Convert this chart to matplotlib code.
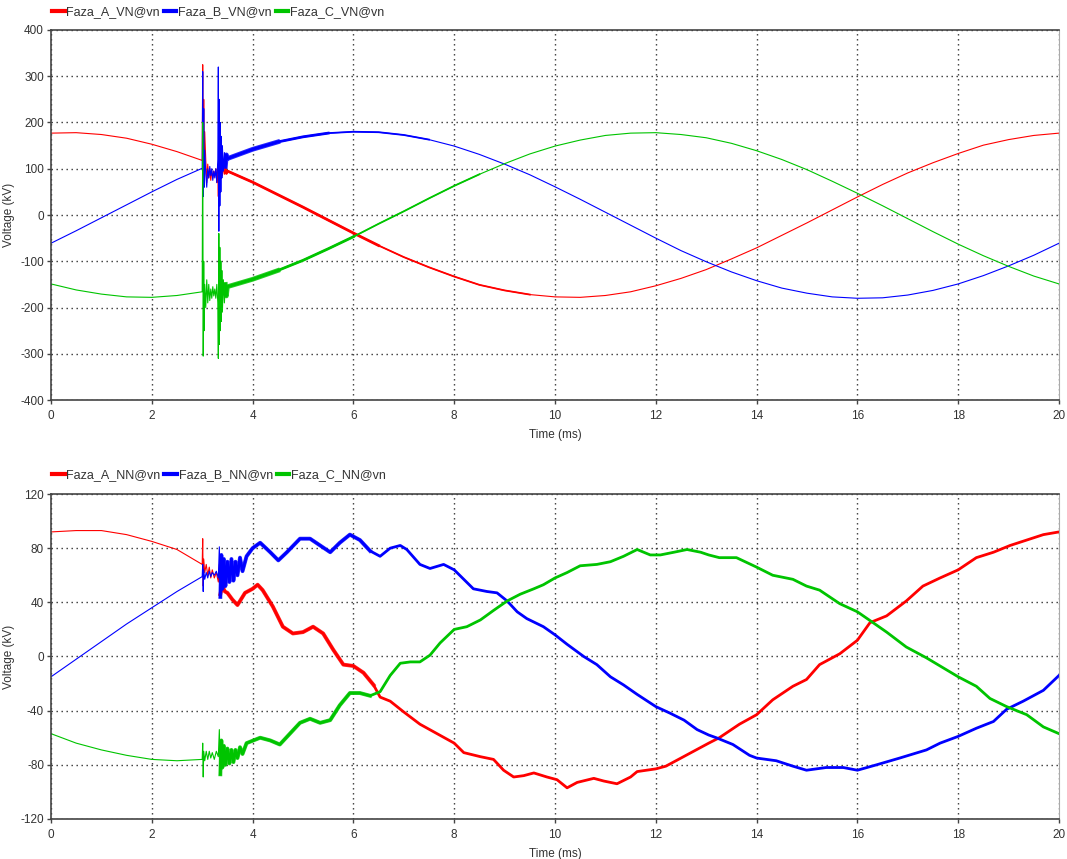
import numpy as np
import matplotlib
matplotlib.use("Agg")
import matplotlib.pyplot as plt

plt.rcParams['font.family'] = ['Liberation Sans', 'DejaVu Sans']
plt.rcParams['axes.unicode_minus'] = False

# ---------------- data: top chart (VN) ----------------
t_top = [0, 0.5, 1, 1.5, 2, 2.5, 3, 3.5, 4, 4.5, 5, 5.5, 6, 6.5, 7, 7.5, 8, 8.5, 9, 9.5,
         10, 10.5, 11, 11.5, 12, 12.5, 13, 13.5, 14, 14.5, 15, 15.5, 16, 16.5, 17, 17.5,
         18, 18.5, 19, 19.5, 20]
a_top = [177, 178, 174, 166, 153, 137, 118, 95, 71, 44, 17, -11, -39, -66, -91, -113, -133,
         -151, -163, -172, -177, -178, -174, -166, -153, -137, -118, -95, -71, -44, -17, 11,
         39, 66, 91, 113, 133, 151, 163, 172, 177]
b_top = [-61, -34, -6, 22, 50, 77, 101, 123, 142, 158, 169, 177, 180, 179, 173, 163, 149, 131,
         110, 87, 61, 34, 6, -22, -50, -77, -101, -123, -142, -158, -169, -177, -180, -179,
         -173, -163, -149, -131, -110, -87, -61]
c_top = [-149, -162, -171, -177, -178, -174, -166, -154, -139, -120, -98, -73, -47, -19, 8, 36,
         63, 88, 111, 132, 149, 162, 172, 177, 178, 174, 167, 155, 139, 120, 98, 73, 47, 20,
         -8, -36, -63, -88, -111, -132, -149]

# transient window of the top chart
t_tr = [3.00, 3.01, 3.02, 3.03, 3.04, 3.05, 3.07, 3.09, 3.11, 3.13, 3.15, 3.17, 3.19, 3.21,
        3.23, 3.25, 3.27, 3.29, 3.31, 3.32, 3.33, 3.34, 3.35, 3.36, 3.37, 3.38, 3.39, 3.40,
        3.42, 3.44, 3.46, 3.48, 3.50]
a_tr = [118, 325, 60, 250, 110, 180, 120, 70, 110, 80, 100, 75, 95, 80, 95, 85, 100, 70, 110,
        40, 150, 60, 130, 75, 115, 80, 110, 85, 105, 88, 100, 90, 95]
b_tr = [101, 310, 40, 230, 60, 140, 90, 60, 100, 80, 105, 85, 100, 75, 95, 80, 100, 70, 120,
        320, -35, 250, 20, 200, 50, 170, 80, 150, 95, 135, 105, 130, 122]
c_tr = [-166, 200, -305, -100, -250, -150, -200, -140, -190, -150, -185, -160, -180, -155,
        -175, -160, -180, -150, -190, -310, -40, -280, -70, -250, -100, -230, -120, -210,
        -140, -190, -150, -175, -155]

# ---------------- data: bottom chart (NN) ----------------
t_a_bot = [0, 0.5, 1, 1.5, 2, 2.5, 3.0, 3.01, 3.02, 3.03, 3.05, 3.08, 3.11, 3.14, 3.17, 3.2,
           3.24, 3.28, 3.32, 3.34, 3.36, 3.4, 3.45, 3.5, 3.6, 3.7, 3.85, 4.0, 4.1, 4.2, 4.4,
           4.6, 4.8, 5.0, 5.2, 5.4, 5.6, 5.8, 6.0, 6.2, 6.4, 6.53, 6.73, 7.0, 7.32, 7.66, 8.0,
           8.19, 8.52, 8.78, 8.98, 9.18, 9.38, 9.58, 9.84, 10.04, 10.24, 10.44, 10.77, 10.97,
           11.23, 11.5, 11.63, 12.0, 12.2, 12.5, 12.75, 13.05, 13.26, 13.66, 14.0, 14.32,
           14.72, 14.99, 15.25, 15.65, 16.0, 16.25, 16.58, 16.97, 17.3, 17.64, 18.0, 18.36,
           18.7, 19.03, 19.36, 19.69, 20]
a_bot = [92, 93, 93, 90, 85, 79, 68, 87, 52, 72, 62, 68, 60, 66, 58, 64, 58, 62, 55, 68, 46,
         52, 48, 47, 42, 38, 47, 50, 53, 49, 37, 22, 17, 18, 22, 17, 5, -6, -7, -12, -21, -30,
         -33, -41, -50, -57, -64, -71, -74, -76, -84, -89, -88, -86, -89, -91, -97, -93, -90,
         -92, -94, -89, -85, -83, -81, -75, -70, -64, -60, -50, -43, -32, -22, -17, -6, 2, 12,
         25, 30, 41, 52, 58, 64, 73, 77, 82, 86, 90, 92]

t_b_bot = [0, 0.5, 1, 1.5, 2, 2.5, 3.0, 3.01, 3.02, 3.03, 3.05, 3.08, 3.11, 3.14, 3.17, 3.2,
           3.24, 3.28, 3.32, 3.34, 3.36, 3.38, 3.40, 3.43, 3.46, 3.5, 3.54, 3.58, 3.62, 3.66,
           3.7, 3.75, 3.8, 3.88, 4.0, 4.15, 4.35, 4.51, 4.68, 4.94, 5.14, 5.34, 5.54, 5.73,
           5.93, 6.13, 6.33, 6.53, 6.73, 6.93, 7.06, 7.32, 7.52, 7.79, 8.0, 8.19, 8.38, 8.65,
           8.85, 9.05, 9.25, 9.44, 9.77, 10.0, 10.24, 10.57, 10.83, 11.1, 11.36, 11.63, 12.0,
           12.29, 12.56, 12.82, 13.05, 13.2, 13.53, 13.86, 14.0, 14.39, 14.72, 14.99, 15.38,
           15.72, 16.0, 16.38, 16.84, 17.37, 17.64, 18.0, 18.36, 18.7, 18.96, 19.29, 19.69, 20]
b_bot = [-15, -2, 11, 24, 36, 48, 59, 68, 48, 64, 57, 62, 58, 63, 59, 62, 60, 63, 58, 81, 44,
         75, 50, 72, 52, 70, 55, 72, 56, 70, 60, 73, 63, 74, 80, 84, 77, 71, 77, 87, 87, 82,
         77, 84, 90, 86, 78, 74, 80, 82, 79, 68, 65, 68, 64, 57, 50, 48, 47, 41, 33, 28, 22,
         16, 9, 0, -6, -15, -21, -28, -37, -42, -47, -54, -58, -60, -65, -73, -75, -77, -81,
         -84, -82, -82, -84, -80, -75, -69, -64, -59, -53, -48, -39, -33, -25, -14]

t_c_bot = [0, 0.5, 1, 1.5, 2, 2.5, 3.0, 3.01, 3.02, 3.03, 3.05, 3.08, 3.11, 3.14, 3.17, 3.2,
           3.24, 3.28, 3.32, 3.34, 3.36, 3.38, 3.40, 3.43, 3.46, 3.5, 3.54, 3.58, 3.62, 3.66,
           3.7, 3.75, 3.8, 3.88, 4.15, 4.35, 4.54, 4.74, 4.94, 5.14, 5.34, 5.54, 5.73, 5.93,
           6.13, 6.33, 6.53, 6.73, 6.93, 7.13, 7.32, 7.52, 7.72, 8.0, 8.25, 8.52, 8.78, 9.05,
           9.31, 9.58, 9.77, 10.0, 10.24, 10.5, 10.83, 11.1, 11.36, 11.63, 11.89, 12.09, 12.36,
           12.62, 12.89, 13.05, 13.26, 13.6, 14.0, 14.32, 14.72, 14.99, 15.25, 15.65, 16.0,
           16.31, 16.58, 16.97, 17.37, 17.64, 18.0, 18.36, 18.63, 18.96, 19.36, 19.69, 20]
c_bot = [-57, -64, -69, -73, -76, -77, -76, -64, -89, -70, -77, -70, -76, -70, -75, -71, -76,
         -70, -74, -54, -87, -62, -82, -66, -80, -68, -79, -69, -78, -69, -75, -67, -72, -64,
         -60, -62, -65, -57, -49, -46, -49, -47, -36, -27, -27, -29, -26, -14, -5, -4, -4, 1,
         10, 20, 22, 27, 34, 41, 46, 50, 53, 58, 62, 67, 68, 70, 74, 79, 75, 75, 77, 79, 77,
         75, 73, 73, 66, 60, 57, 52, 49, 39, 33, 25, 18, 7, -1, -7, -15, -22, -31, -37, -43,
         -52, -57]

legend_top = ['Faza_A_VN@vn', 'Faza_B_VN@vn', 'Faza_C_VN@vn']
legend_bot = ['Faza_A_NN@vn', 'Faza_B_NN@vn', 'Faza_C_NN@vn']
x_ticks = [0, 2, 4, 6, 8, 10, 12, 14, 16, 18, 20]
y_ticks_top = [-400, -300, -200, -100, 0, 100, 200, 300, 400]
y_ticks_bot = [-120, -80, -40, 0, 40, 80, 120]

RED, BLUE, GREEN = '#ff0000', '#0000ff', '#00c400'
TXT = '#333333'


def merge(tb, vb, tt, vt):
    tb = np.asarray(tb, float); vb = np.asarray(vb, float)
    keep = (tb < tt[0]) | (tb > tt[-1])
    t = np.concatenate([tb[keep], tt]); v = np.concatenate([vb[keep], vt])
    o = np.argsort(t, kind='stable')
    return t[o], v[o]


def style(ax, yticks, ylim):
    ax.set_xlim(0, 20)
    ax.set_ylim(*ylim)
    ax.set_xticks(x_ticks)
    ax.set_yticks(yticks)
    ax.grid(True, color='#333333', linestyle=(0, (1, 2.6)), linewidth=1.0)
    ax.tick_params(direction='out', length=3, width=1, colors='#444444',
                   labelcolor=TXT, labelsize=8.5, pad=2)
    ax.tick_params(axis='x', pad=4)
    for s in ['left', 'bottom', 'top']:
        ax.spines[s].set_color('#444444')
        ax.spines[s].set_linewidth(1.2)
    ax.spines['right'].set_color('#aaaaaa')
    ax.set_ylabel('Voltage (kV)', fontsize=8.5, color=TXT, labelpad=4)
    ax.set_xlabel('Time (ms)', fontsize=8.5, color=TXT, labelpad=5)
    ax.set_axisbelow(True)


fig = plt.figure(figsize=(10.67, 8.59), dpi=100)
ax1 = fig.add_axes([0.0478, 0.5343, 0.9447, 0.4308])
ax2 = fig.add_axes([0.0478, 0.0466, 0.9447, 0.3783])

# top chart
series_top = [(a_top, a_tr, RED, 6.5, 9.5), (b_top, b_tr, BLUE, 5.5, 7.5),
              (c_top, c_tr, GREEN, 6.0, 8.5)]
for (vb, vt, col, t1, t2), lab in zip(series_top, legend_top):
    t, v = merge(t_top, vb, t_tr, vt)
    ax1.plot(t, v, color=col, lw=0.8, label=lab)
    m = (t >= 3.45) & (t <= t2)
    ax1.plot(t[m], v[m], color=col, lw=1.3)
    m = (t >= 3.45) & (t <= t1)
    ax1.plot(t[m], v[m], color=col, lw=2.0)
    if col != RED:
        m2 = (t >= 3.45) & (t <= 4.6)
        ax1.plot(t[m2], v[m2], color=col, lw=3.4, alpha=0.85)
style(ax1, y_ticks_top, (-400, 400))

# bottom chart
series_bot = [(t_a_bot, a_bot, RED), (t_b_bot, b_bot, BLUE), (t_c_bot, c_bot, GREEN)]
for (tb, vb, col), lab in zip(series_bot, legend_bot):
    t = np.asarray(tb, float); v = np.asarray(vb, float)
    ax2.plot(t, v, color=col, lw=0.8, label=lab)
    m = t >= 3.36
    ax2.plot(t[m], v[m], color=col, lw=2.0)
    m = (t >= 3.36) & (t <= 6.5)
    ax2.plot(t[m], v[m], color=col, lw=2.8, alpha=0.8)
style(ax2, y_ticks_bot, (-120, 120))

for ax, off in ((ax1, 18 / 370), (ax2, 19 / 325)):
    leg = ax.legend(loc='center left', bbox_to_anchor=(0.001, 1 + off), ncol=3, frameon=False,
                    handlelength=1.0, handletextpad=0.15, columnspacing=0.3,
                    borderpad=0.0, borderaxespad=0.0, fontsize=9)
    for line in leg.get_lines():
        line.set_linewidth(3.0)
    for txt in leg.get_texts():
        txt.set_color(TXT)

fig.savefig('out.png', dpi=100, facecolor='white')
